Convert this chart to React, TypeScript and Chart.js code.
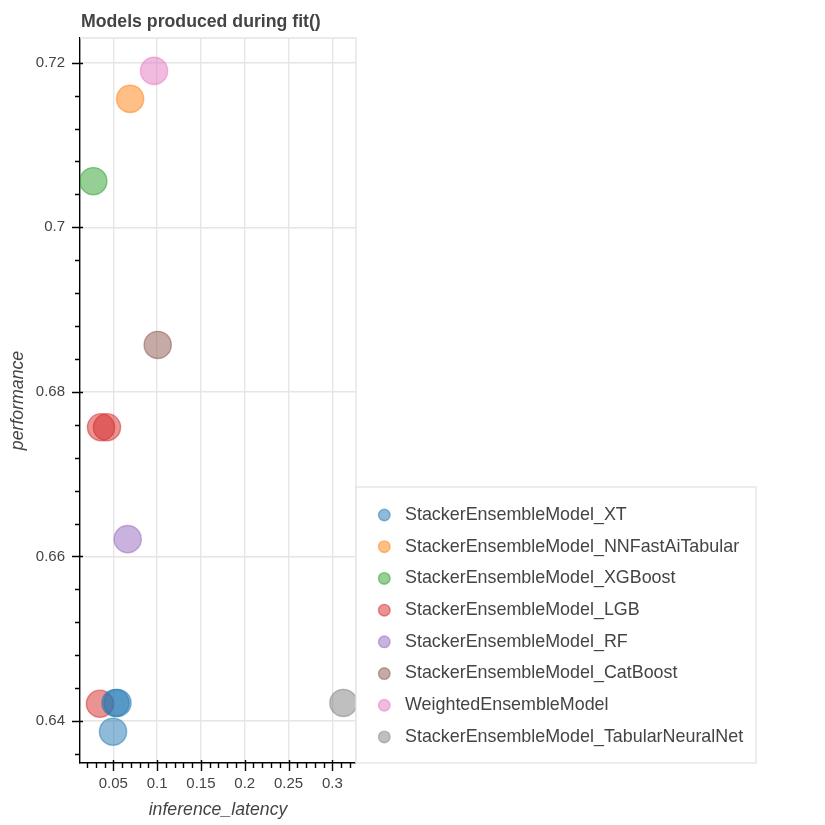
import React, { useEffect, useRef } from "react";
import { Chart, registerables } from "chart.js";

Chart.register(...registerables);

const chartTitle = "Models produced during fit()";
const xAxisTitle = "inference_latency";
const yAxisTitle = "performance";

const modelNames = [
  "StackerEnsembleModel_XT",
  "StackerEnsembleModel_NNFastAiTabular",
  "StackerEnsembleModel_XGBoost",
  "StackerEnsembleModel_LGB",
  "StackerEnsembleModel_RF",
  "StackerEnsembleModel_CatBoost",
  "WeightedEnsembleModel",
  "StackerEnsembleModel_TabularNeuralNet",
];

const modelColors = [
  "31,119,180",
  "255,127,14",
  "44,160,44",
  "214,39,40",
  "148,103,189",
  "140,86,75",
  "227,119,194",
  "127,127,127",
];

// inference_latency (x) and performance (y) per model
const latencyXT = [0.0525, 0.0548, 0.0497];
const performanceXT = [0.6422, 0.6422, 0.6387];
const latencyNNFastAi = [0.0692];
const performanceNNFastAi = [0.7156];
const latencyXGBoost = [0.0272];
const performanceXGBoost = [0.7056];
const latencyLGB = [0.0348, 0.036, 0.0428];
const performanceLGB = [0.6421, 0.6757, 0.6757];
const latencyRF = [0.0664];
const performanceRF = [0.6621];
const latencyCatBoost = [0.1007];
const performanceCatBoost = [0.6857];
const latencyWeighted = [0.0965];
const performanceWeighted = [0.719];
const latencyTabularNN = [0.3126];
const performanceTabularNN = [0.6422];

const latencies = [
  latencyXT,
  latencyNNFastAi,
  latencyXGBoost,
  latencyLGB,
  latencyRF,
  latencyCatBoost,
  latencyWeighted,
  latencyTabularNN,
];
const performances = [
  performanceXT,
  performanceNNFastAi,
  performanceXGBoost,
  performanceLGB,
  performanceRF,
  performanceCatBoost,
  performanceWeighted,
  performanceTabularNN,
];

// axis ranges and tick steps
const xRange = [0.012, 0.327];
const yRange = [0.6349, 0.723];
const xMinorStep = 0.01;
const xMajorStep = 0.05;
const yMinorStep = 0.004;
const yMajorStep = 0.02;

const FONT = "'Liberation Sans', Arial, Helvetica, sans-serif";
const TEXT = "#444444";
const GRID = "#e5e5e5";

const isMultiple = (v: number, step: number) =>
  Math.abs(v / step - Math.round(v / step)) < 1e-6;

const fmt = (v: number) => String(Math.round(v * 100) / 100);

const decorPlugin = {
  id: "decor",
  beforeDatasetsDraw(chart: any) {
    const { ctx, chartArea: a } = chart;
    ctx.save();
    ctx.strokeStyle = GRID;
    ctx.lineWidth = 1.4;
    ctx.beginPath();
    ctx.moveTo(a.left, a.top);
    ctx.lineTo(a.right, a.top);
    ctx.lineTo(a.right, a.bottom);
    ctx.stroke();
    ctx.restore();
  },
  afterDraw(chart: any) {
    const { ctx, chartArea: a } = chart;
    const xs = chart.scales.x;
    const ys = chart.scales.y;
    ctx.save();
    // tick marks
    ctx.strokeStyle = "#000";
    ctx.lineWidth = 1.4;
    ctx.beginPath();
    for (const t of xs.ticks) {
      const px = Math.round(xs.getPixelForValue(t.value)) + 0.5;
      const major = isMultiple(t.value, xMajorStep);
      ctx.moveTo(px, a.bottom - (major ? 3 : 0));
      ctx.lineTo(px, a.bottom + (major ? 8 : 5));
    }
    for (const t of ys.ticks) {
      const py = Math.round(ys.getPixelForValue(t.value)) + 0.5;
      const major = isMultiple(t.value, yMajorStep);
      ctx.moveTo(a.left + (major ? 3 : 0), py);
      ctx.lineTo(a.left - (major ? 8 : 5), py);
    }
    ctx.stroke();

    // title
    ctx.fillStyle = TEXT;
    ctx.font = `bold 17.7px ${FONT}`;
    ctx.textAlign = "left";
    ctx.textBaseline = "middle";
    ctx.fillText(chartTitle, a.left + 1, a.top - 16);

    // legend
    const lx = a.right;
    const lb = a.bottom;
    const lw = 400;
    const lh = 276;
    const ly = lb - lh;
    ctx.fillStyle = "rgba(255,255,255,0.95)";
    ctx.fillRect(lx, ly, lw, lh);
    ctx.strokeStyle = GRID;
    ctx.lineWidth = 1.4;
    ctx.strokeRect(lx, ly, lw, lh);
    const items = chart.data.datasets;
    const spacing = 31.71;
    ctx.font = `17.9px ${FONT}`;
    items.forEach((ds: any, i: number) => {
      const cy = ly + 28 + i * spacing;
      ctx.beginPath();
      ctx.arc(lx + 28.3, cy, 5.8, 0, Math.PI * 2);
      ctx.fillStyle = ds.backgroundColor;
      ctx.fill();
      ctx.strokeStyle = ds.borderColor;
      ctx.lineWidth = 1.4;
      ctx.stroke();
      ctx.fillStyle = TEXT;
      ctx.fillText(ds.label, lx + 49, cy);
    });
    ctx.restore();
  },
};

export default function App() {
  const canvasRef = useRef<HTMLCanvasElement | null>(null);

  useEffect(() => {
    const canvas = canvasRef.current;
    if (!canvas) return;
    const datasets = modelNames.map((name, i) => ({
      label: name,
      data: latencies[i].map((x, j) => ({ x, y: performances[i][j] })),
      backgroundColor: `rgba(${modelColors[i]},0.5)`,
      borderColor: `rgba(${modelColors[i]},0.5)`,
      borderWidth: 1.4,
      pointRadius: 13.6,
      pointHoverRadius: 13.6,
      clip: 0,
    }));
    const chart = new Chart(canvas, {
      type: "scatter",
      data: { datasets },
      plugins: [decorPlugin],
      options: {
        animation: false,
        responsive: false,
        layout: { padding: { top: 38, right: 469, bottom: 0, left: 0 } },
        plugins: {
          legend: { display: false },
          title: { display: false },
          tooltip: { enabled: false },
        },
        scales: {
          x: {
            type: "linear",
            min: xRange[0],
            max: xRange[1],
            afterFit: (s: any) => {
              s.height = 62;
            },
            ticks: {
              stepSize: xMinorStep,
              includeBounds: false,
              autoSkip: false,
              maxRotation: 0,
              padding: 12,
              color: TEXT,
              font: { family: FONT, size: 15 },
              callback: (v: any) => (isMultiple(Number(v), xMajorStep) ? fmt(Number(v)) : ""),
            },
            grid: {
              drawTicks: false,
              lineWidth: 1.4,
              color: (c: any) =>
                c.tick && isMultiple(c.tick.value, xMajorStep) ? GRID : "rgba(0,0,0,0)",
            },
            border: { display: true, color: "#000", width: 1.4 },
            title: {
              display: true,
              text: xAxisTitle,
              color: TEXT,
              font: { family: FONT, size: 17.7, style: "italic" },
              padding: { top: 0, bottom: 4 },
            },
          },
          y: {
            type: "linear",
            min: yRange[0],
            max: yRange[1],
            afterFit: (s: any) => {
              s.width = 80;
            },
            ticks: {
              stepSize: yMinorStep,
              includeBounds: false,
              autoSkip: false,
              padding: 15,
              color: TEXT,
              font: { family: FONT, size: 15 },
              callback: (v: any) => (isMultiple(Number(v), yMajorStep) ? fmt(Number(v)) : ""),
            },
            grid: {
              drawTicks: false,
              lineWidth: 1.4,
              color: (c: any) =>
                c.tick && isMultiple(c.tick.value, yMajorStep) ? GRID : "rgba(0,0,0,0)",
            },
            border: { display: true, color: "#000", width: 1.4 },
            title: {
              display: true,
              text: yAxisTitle,
              color: TEXT,
              font: { family: FONT, size: 17.7, style: "italic" },
              padding: { top: 7, bottom: 0 },
            },
          },
        },
      },
    });
    return () => chart.destroy();
  }, []);

  return (
    <div style={{ position: "fixed", left: 0, top: 0, width: 825, height: 825, background: "#fff" }}>
      <canvas ref={canvasRef} width={825} height={825} style={{ width: 825, height: 825 }} />
    </div>
  );
}
